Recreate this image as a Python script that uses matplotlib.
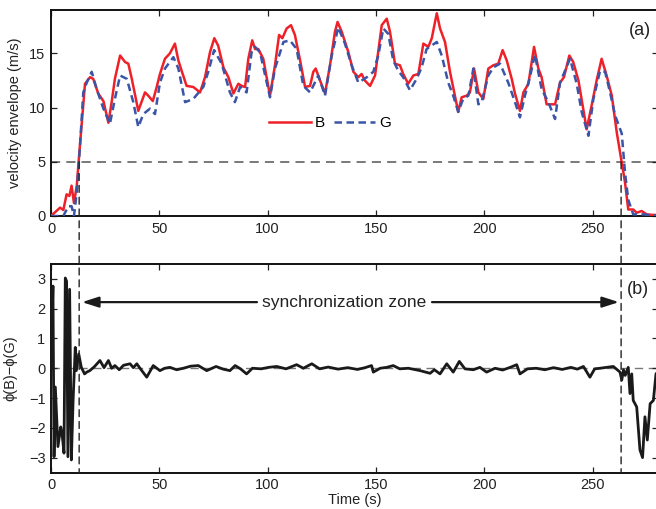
import matplotlib
matplotlib.use("Agg")
import matplotlib.pyplot as plt
from matplotlib.patches import ConnectionPatch

plt.rcParams['font.family'] = ['Liberation Sans', 'DejaVu Sans']

# ---- data ----
t_B = [0.3, 4.2, 5.7, 7.2, 8.5, 9.5, 10.6, 11.9, 13.1, 14.9, 15.7, 18.0, 19.5, 21.8, 24.2, 26.5, 28.0,
       29.5, 31.9, 34.2, 35.7, 37.3, 40.3, 43.4, 44.9, 47.0, 48.8, 50.3, 52.6, 54.9, 57.2, 58.8, 60.3,
       62.6, 65.7, 68.8, 71.1, 73.4, 75.4, 77.2, 79.6, 81.9, 84.2, 86.5, 88.0, 89.6, 91.1, 92.9, 94.2,
       95.7, 98.0, 101.1, 103.4, 105.3, 106.8, 108.8, 110.8, 112.6, 115.0, 117.3, 119.6, 121.1, 122.2,
       124.2, 126.5, 128.8, 131.1, 132.3, 134.2, 137.3, 139.6, 141.9, 143.4, 144.9, 147.3, 149.6,
       152.7, 155.0, 156.5, 158.8, 161.1, 162.6, 164.9, 167.3, 169.6, 171.9, 174.2, 175.8, 178.1,
       179.6, 181.9, 184.2, 188.0, 189.6, 191.9, 193.4, 195.3, 197.3, 199.6, 201.9, 204.2, 206.5,
       208.5, 210.4, 212.7, 214.2, 216.5, 218.1, 220.4, 223.0, 225.0, 226.5, 228.8, 232.7, 235.0,
       236.8, 239.3, 241.1, 243.5, 247.3, 249.6, 251.9, 254.2, 256.5, 258.9, 261.2, 262.7, 265.0,
       266.5, 268.8, 270.4, 272.7, 275.0, 278.0, 280.0]
v_B = [0.06, 0.77, 0.55, 2.0, 1.85, 2.8, 1.2, 2.8, 5.9, 10.2, 12.2, 12.8, 12.65, 11.3, 10.6, 8.6, 10.5,
       12.65, 14.8, 14.2, 14.05, 12.65, 9.7, 11.4, 11.1, 10.6, 11.9, 13.1, 14.5, 15.0, 15.9, 14.35, 13.4,
       12.0, 11.9, 11.4, 12.8, 15.1, 16.4, 15.7, 13.7, 12.8, 11.3, 12.2, 12.0, 11.9, 14.5, 16.2, 15.4,
       15.4, 14.5, 11.1, 13.9, 16.7, 16.4, 17.3, 17.6, 16.7, 14.35, 11.9, 12.0, 13.3, 13.6,
       12.5, 11.3, 13.9, 17.0, 17.9, 17.0, 15.1, 13.3, 12.8, 13.1, 12.5, 12.0, 12.96,
       17.6, 18.2, 17.0, 14.05, 13.9, 13.1, 12.2, 12.96, 13.1, 15.9, 15.6, 16.4, 18.7,
       17.3, 16.05, 13.3, 9.6, 10.95, 11.1, 11.4, 13.6, 11.4, 10.8, 13.6, 13.9, 14.05,
       15.3, 14.35, 12.65, 11.3, 9.7, 11.4, 12.2, 15.6, 13.6, 12.8, 10.3, 10.3, 12.3,
       12.8, 14.8, 14.2, 12.5, 8.0, 10.2, 12.5, 14.5, 12.96, 11.1, 7.7, 5.9, 3.1,
       0.6, 0.6, 0.3, 0.46, 0.15, 0.1, 0.1]

t_G = [0.0, 5.7, 8.0, 9.5, 10.6, 11.9, 13.4, 14.9, 16.5, 18.8, 21.1, 24.2, 27.2, 29.5, 31.9, 35.0,
       38.0, 40.3, 42.6, 45.7, 48.0, 50.3, 52.6, 56.5, 58.8, 61.9, 65.7, 70.3, 72.6, 75.3, 78.8,
       82.6, 84.9, 87.3, 90.3, 92.6, 94.2, 96.5, 101.1, 103.4, 107.3, 110.3, 113.4, 116.5, 119.6,
       123.4, 126.5, 129.6, 132.6, 135.7, 138.8, 141.9, 145.8, 148.8, 151.1, 153.4, 155.7, 158.0,
       160.3, 162.6, 165.7, 168.8, 171.1, 173.4, 178.1, 180.4, 183.4, 185.7, 188.0, 190.3, 192.7,
       195.0, 197.3, 198.8, 201.9, 204.2, 207.3, 211.1, 214.2, 216.5, 218.8, 221.1, 223.4, 226.5,
       229.6, 232.7, 235.0, 239.6, 242.7, 245.0, 248.1, 250.4, 253.5, 255.8, 258.1, 260.4, 263.5,
       265.0, 266.5, 268.8, 273.5, 280.0]
v_G = [0.0, 0.0, 0.9, 0.9, 0.0, 2.2, 6.5, 11.4, 12.3, 13.3, 11.7, 9.9, 8.5, 10.8, 12.96, 12.65,
       10.5, 8.2, 9.4, 9.9, 9.4, 12.3, 13.6, 14.65, 13.6, 10.5, 10.8, 11.9, 13.3, 15.3, 14.05,
       11.4, 10.5, 11.9, 11.4, 15.1, 15.6, 15.1, 10.95, 13.6, 16.05, 16.2, 15.4, 12.0, 11.4,
       12.96, 11.1, 14.8, 17.4, 15.9, 13.9, 12.3, 12.8, 13.3, 14.8, 17.3, 16.8, 14.35,
       13.4, 12.8, 11.6, 12.65, 13.7, 15.4, 16.05, 14.8, 12.3, 11.1, 9.6, 10.8, 11.1,
       13.6, 10.3, 10.5, 12.96, 13.7, 14.05, 12.3, 10.5, 9.1, 11.1, 12.8, 14.9, 11.7,
       10.5, 8.95, 12.3, 14.5, 12.2, 9.6, 7.4, 10.8, 13.4, 13.3, 11.4, 9.3, 7.6,
       4.0, 1.5, 0.15, 0.15, 0.0]

t_phi = [0.0, 0.9, 1.4, 2.0, 3.2, 4.5, 5.1, 6.0, 6.6, 7.2, 7.8, 8.6, 9.4, 10.2, 11.2, 11.7, 12.8,
         14.0, 15.5, 16.5, 17.9, 20.0, 22.6, 24.5, 26.5, 28.0, 29.5, 31.5, 33.5, 36.5, 38.0, 39.6,
         41.1, 44.2, 47.2, 50.3, 52.5, 54.9, 58.0, 61.1, 64.5, 68.0, 71.9, 76.2, 79.5, 82.6, 85.0,
         87.5, 90.3, 93.0, 97.0, 100.5, 104.2, 108.5, 113.4, 116.5, 120.4, 124.0, 128.0, 132.5,
         137.0, 141.5, 145.0, 148.0, 148.8, 152.0, 155.0, 158.0, 161.0, 165.0, 170.4, 175.0,
         177.0, 179.6, 182.7, 185.7, 188.5, 191.1, 195.0, 198.0, 201.1, 205.0, 208.5, 212.0,
         215.0, 216.5, 220.0, 224.0, 228.0, 232.0, 236.0, 240.0, 243.0, 245.8, 248.8, 251.0,
         253.5, 256.5, 259.6, 262.7, 263.5, 264.3, 265.1, 266.5, 267.3, 268.1, 268.8, 270.4,
         271.9, 273.1, 274.2, 275.3, 276.6, 278.1, 279.3, 280.0]
phi = [0.0, 2.76, -2.97, -0.63, -2.63, -1.97, -2.19, -2.85, 3.03, 2.92, -2.97, 2.65, -3.08, -1.08,
       0.7, -0.08, 0.48, 0.03, -0.19, -0.13, -0.08, 0.05, 0.26, 0.02, 0.26, 0.0, 0.09, -0.05, 0.1,
       0.15, 0.02, 0.15, 0.0, -0.3, 0.09, -0.08, 0.0, 0.03, -0.05, 0.0, 0.07, 0.09, -0.08, 0.06,
       -0.03, -0.08, 0.09, -0.02, -0.19, 0.0, -0.02, 0.03, 0.06, -0.02, 0.12, 0.0, 0.15, -0.02,
       0.04, -0.03, 0.02, -0.04, 0.02, 0.09, -0.13, 0.0, 0.03, 0.09, -0.02, 0.0, -0.08, -0.17,
       -0.05, -0.19, 0.15, -0.13, 0.23, -0.02, -0.05, 0.03, -0.13, 0.0, -0.06, 0.03, 0.12, -0.19,
       -0.02, 0.0, -0.05, 0.02, -0.04, 0.03, -0.03, 0.06, -0.3, -0.02, 0.0, 0.03, 0.06, -0.13,
       -0.4, -0.05, -0.24, 0.03, -0.85, -0.19, -1.08, -1.3, -2.74, -3.0, -1.63, -2.41, -1.19,
       -1.08, -0.19, -0.13]

sync_start, sync_end = 13.0, 263.2
threshold = 5
xticks = [0, 50, 100, 150, 200, 250]

# ---- figure ----
fig = plt.figure(figsize=(6.56, 5.09), dpi=100)
W, H = 656, 509
left = 51 / W
width = 606.5 / W
ax1 = fig.add_axes([left, 1 - 216 / H, width, 206 / H])
ax2 = fig.add_axes([left, 1 - 472.5 / H, width, 208.5 / H])

for ax in (ax1, ax2):
    ax.set_xlim(0, 280)
    ax.set_xticks(xticks)
    ax.tick_params(direction='in', length=4, width=0.9, top=True, right=True,
                   labelsize=10.5, colors='#222222', pad=4)
    for s in ax.spines.values():
        s.set_linewidth(1.4)
        s.set_color('#111111')

# top panel
ax1.axhline(threshold, color='#555555', lw=1.1, ls=(0, (6, 4)), zorder=1)
ax1.plot(t_B, v_B, color='#ee2028', lw=1.8, label='B', zorder=3)
ax1.plot(t_G, v_G, color='#3a55a8', lw=1.8, ls=(0, (3.0, 1.8)), label='G', zorder=4)
ax1.set_ylim(0, 19)
ax1.set_yticks([0, 5, 10, 15])
ax1.set_ylabel('velocity envelope (m/s)', fontsize=10.5, color='#222222', labelpad=5)
ax1.text(271.9, 17.1, '(a)', fontsize=13, ha='center', va='center', color='#222222')
leg = ax1.legend(ncol=2, frameon=False, loc='center', bbox_to_anchor=(0.46, 0.45),
                 handlelength=2.7, columnspacing=0.6, handletextpad=0.25, fontsize=11)

# bottom panel
ax2.axhline(0, color='#777777', lw=1.0, ls=(0, (6, 4)), zorder=1)
ax2.plot(t_phi, phi, color='#1a1a1a', lw=2.0, zorder=3)
ax2.set_ylim(-3.5, 3.5)
ax2.set_yticks([-3, -2, -1, 0, 1, 2, 3])
ax2.set_ylabel('ϕ(B)−ϕ(G)', fontsize=10.5, color='#222222', labelpad=8)
ax2.set_xlabel('Time (s)', fontsize=10.5, color='#222222', labelpad=1)
ax2.text(270.8, 2.66, '(b)', fontsize=13, ha='center', va='center', color='#222222')

# synchronization zone arrows
ax2.text(135.5, 2.22, 'synchronization zone', fontsize=12.5, ha='center', va='center',
         color='#222222')
ax2.annotate('', xy=(sync_start + 1.3, 2.22), xytext=(95.1, 2.22),
             arrowprops=dict(arrowstyle='-|>,head_length=1.0,head_width=0.32', color='#1a1a1a',
                             lw=1.6, shrinkA=0, shrinkB=0))
ax2.annotate('', xy=(sync_end - 1.0, 2.22), xytext=(175.9, 2.22),
             arrowprops=dict(arrowstyle='-|>,head_length=1.0,head_width=0.32', color='#1a1a1a',
                             lw=1.6, shrinkA=0, shrinkB=0))

# vertical dashed lines linking both panels
for xv in (sync_start, sync_end):
    con = ConnectionPatch(xyA=(xv, threshold), coordsA=ax1.transData,
                          xyB=(xv, -3.5), coordsB=ax2.transData,
                          color='#222222', lw=1.0, ls=(0, (5, 3.5)), zorder=5)
    fig.add_artist(con)

fig.savefig('out.png', dpi=100)
